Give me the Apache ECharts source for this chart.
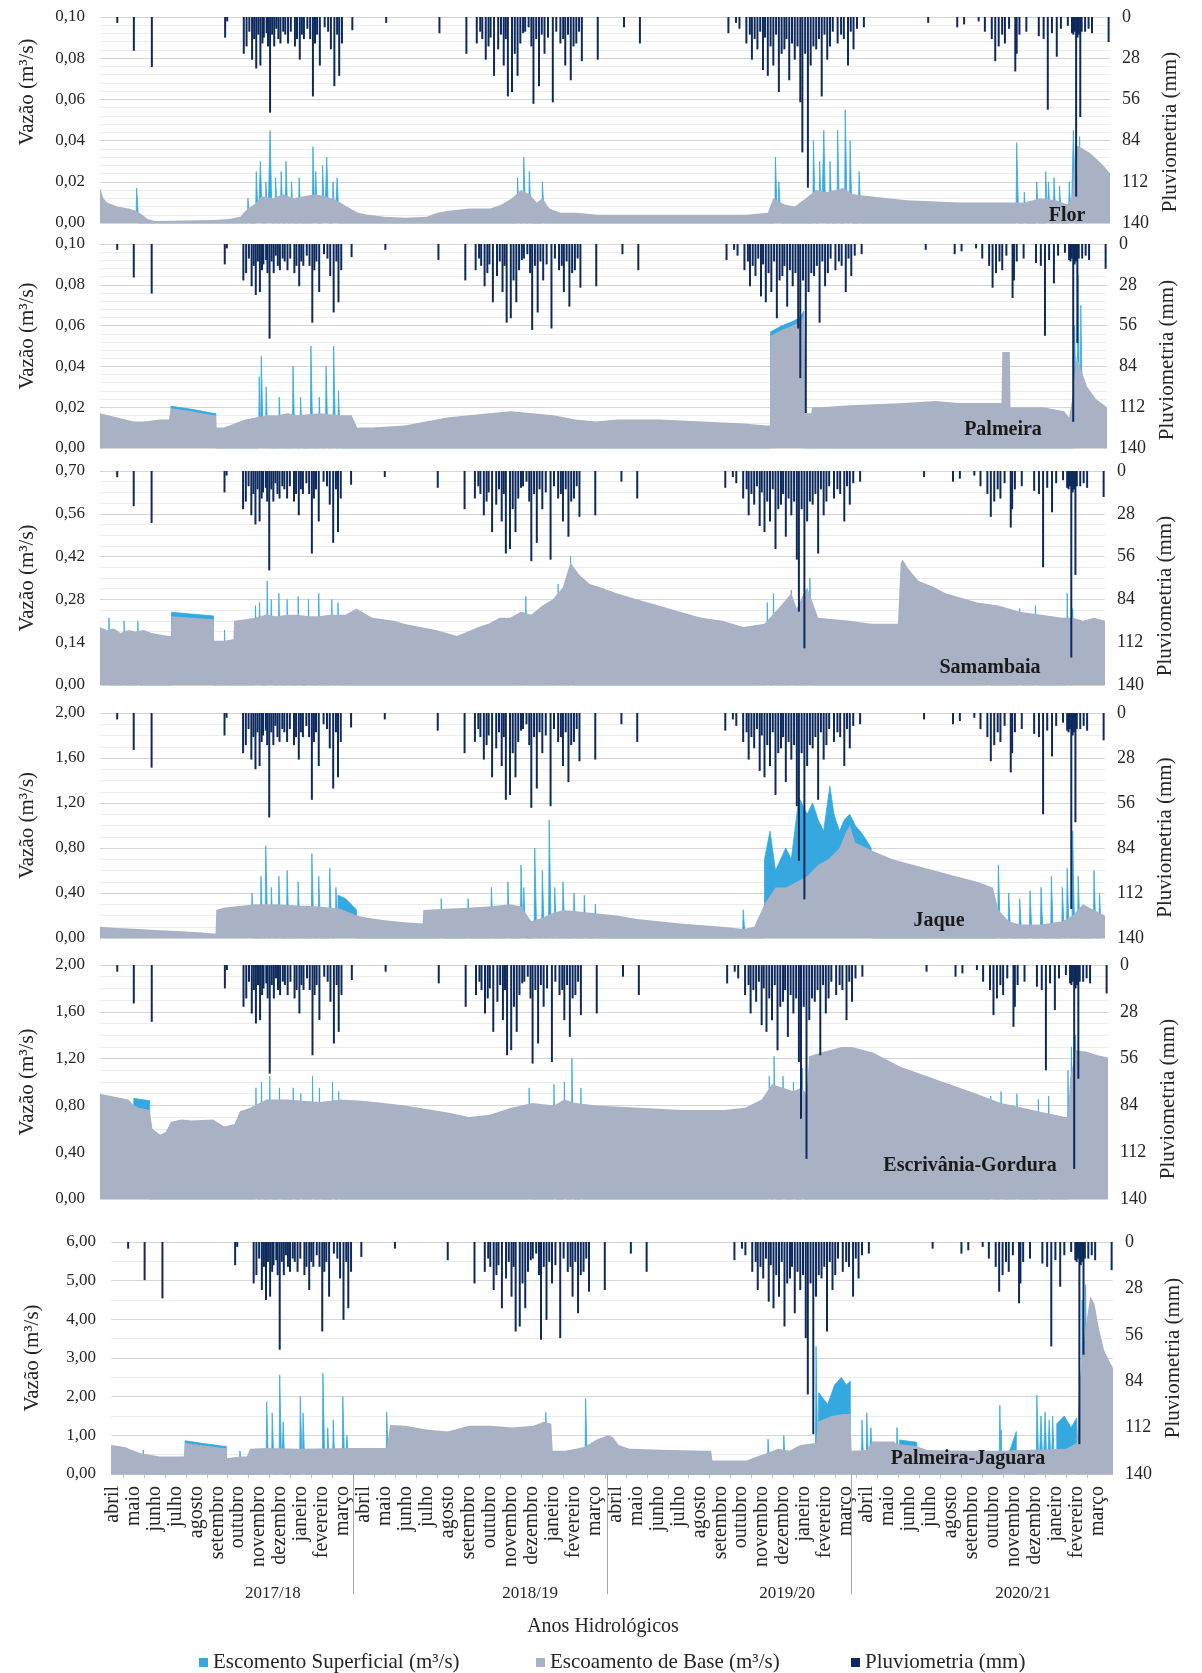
<!DOCTYPE html>
<html><head><meta charset="utf-8">
<script src="https://cdn.jsdelivr.net/npm/echarts@6/dist/echarts.min.js"></script>
<style>html,body{margin:0;padding:0;background:#fff}#chart{width:1202px;height:1673px}</style>
</head><body><div id="chart"></div>
<script>
// ---------------- DATA (x = day index of the record, 0 = 1 April 2017) ----------------
const N_DAYS = 1461;
const monthNames = ['abril','maio','junho','julho','agosto','setembro','outubro','novembro','dezembro','janeiro','fevereiro','março'];
const hydroYears = ['2017/18','2018/19','2019/20','2020/21'];
const yearBounds = [353, 723, 1080];
const yearLabelDays = [236, 611, 986, 1330];
const stationNames = ['Flor','Palmeira','Samambaia','Jaque','Escrivânia-Gordura','Palmeira-Jaguara'];
const flowMax = [0.10, 0.10, 0.70, 2.00, 2.00, 6.00];
const flowInterval = [0.02, 0.02, 0.14, 0.40, 0.40, 1.00];
const flowMinor = [5, 5, 4, 4, 4, 2];

// daily rainfall (mm) [day, mm]
const rainfall = [[25,4],[49,23],[75,34],[181,14],[184,3],[208,25],[212,20],[216,10],[220,29],[223,15],[226,35],[229,12],[232,33],[235,18],[237,14],[241,11],[243,20],[246,65],[249,12],[252,20],[255,8],[258,15],[261,18],[265,10],[268,12],[272,18],[276,10],[282,20],[285,15],[289,29],[292,12],[295,15],[300,8],[304,15],[308,54],[311,18],[314,12],[318,33],[325,7],[330,10],[334,22],[339,47],[343,12],[346,40],[350,18],[365,9],[414,4],[491,11],[530,25],[545,18],[550,10],[553,15],[558,29],[562,20],[565,14],[570,40],[576,22],[580,12],[584,33],[587,15],[590,54],[596,51],[600,25],[604,40],[608,18],[612,11],[615,10],[620,7],[624,20],[627,59],[631,15],[635,47],[639,12],[643,25],[648,14],[655,58],[660,10],[666,18],[670,15],[673,33],[677,12],[681,43],[685,20],[689,18],[693,10],[697,30],[720,29],[758,7],[781,18],[909,11],[920,4],[925,8],[935,18],[940,12],[943,29],[947,15],[951,22],[955,10],[959,36],[962,14],[966,40],[970,20],[974,33],[978,12],[982,51],[986,25],[990,22],[993,15],[997,43],[1001,18],[1005,29],[1009,20],[1013,58],[1016,92],[1020,25],[1024,116],[1028,33],[1032,20],[1036,22],[1040,15],[1044,54],[1048,12],[1052,29],[1056,20],[1060,10],[1067,18],[1072,12],[1076,15],[1082,33],[1086,10],[1090,22],[1095,8],[1105,7],[1198,4],[1240,7],[1250,5],[1271,3],[1280,10],[1290,15],[1295,30],[1300,20],[1305,12],[1309,18],[1315,8],[1324,37],[1326,25],[1330,12],[1340,10],[1358,13],[1365,15],[1371,63],[1377,11],[1384,27],[1390,8],[1400,6],[1406,11],[1408,12],[1410,10],[1412,122],[1414,14],[1416,12],[1418,68],[1420,10],[1425,10],[1430,8],[1435,11],[1459,17]];

// ---- Flor ----
const florBase = [[0,0.017],[5,0.012],[10,0.010],[25,0.008],[41,0.007],[52,0.006],[61,0.004],[69,0.002],[79,0.001],[164,0.0015],[187,0.002],[203,0.003],[208,0.005],[214,0.007],[223,0.009],[234,0.013],[249,0.012],[265,0.014],[280,0.012],[295,0.013],[311,0.014],[326,0.013],[342,0.011],[357,0.008],[373,0.005],[388,0.004],[411,0.003],[442,0.0025],[473,0.003],[488,0.005],[504,0.006],[535,0.007],[565,0.007],[581,0.009],[596,0.012],[609,0.016],[621,0.014],[632,0.010],[640,0.012],[650,0.007],[666,0.005],[689,0.005],[720,0.004],[781,0.004],[859,0.004],[935,0.004],[966,0.005],[974,0.012],[990,0.009],[1005,0.008],[1021,0.012],[1036,0.016],[1052,0.015],[1075,0.017],[1090,0.014],[1113,0.013],[1167,0.011],[1244,0.010],[1306,0.010],[1337,0.010],[1360,0.012],[1383,0.011],[1399,0.009],[1406,0.012],[1411,0.038],[1422,0.036],[1432,0.034],[1445,0.030],[1454,0.027],[1461,0.024]];
const florRunoff = [[53,0.017],[214,0.012],[226,0.025],[232,0.030],[240,0.020],[246,0.045],[254,0.022],[262,0.025],[269,0.030],[277,0.020],[288,0.022],[308,0.037],[312,0.025],[322,0.028],[328,0.032],[337,0.020],[343,0.022],[604,0.022],[613,0.032],[621,0.025],[640,0.020],[977,0.032],[982,0.020],[1032,0.040],[1041,0.030],[1047,0.045],[1056,0.030],[1067,0.045],[1078,0.055],[1085,0.040],[1098,0.025],[1326,0.039],[1337,0.015],[1355,0.020],[1368,0.025],[1372,0.020],[1380,0.022],[1388,0.018],[1402,0.020],[1408,0.045],[1417,0.042]];
const florBands = [];

// ---- Palmeira ----
const palmeiraBase = [[0,0.017],[25,0.015],[49,0.013],[64,0.013],[87,0.014],[100,0.014],[103,0.0195],[133,0.018],[164,0.016],[168,0.016],[169,0.010],[180,0.010],[195,0.012],[211,0.014],[226,0.015],[241,0.016],[257,0.016],[272,0.017],[288,0.016],[318,0.017],[349,0.016],[365,0.016],[373,0.010],[396,0.010],[442,0.011],[473,0.013],[504,0.015],[535,0.016],[565,0.017],[596,0.018],[627,0.017],[658,0.016],[689,0.014],[720,0.013],[751,0.014],[812,0.014],[874,0.013],[935,0.012],[966,0.011],[972,0.011],[973,0.055],[990,0.058],[1005,0.060],[1016,0.062],[1021,0.065],[1023,0.065],[1024,0.017],[1032,0.017],[1033,0.020],[1044,0.020],[1090,0.021],[1167,0.022],[1213,0.023],[1244,0.022],[1308,0.022],[1309,0.047],[1320,0.047],[1321,0.020],[1368,0.020],[1399,0.018],[1406,0.015],[1411,0.025],[1417,0.045],[1422,0.040],[1432,0.030],[1445,0.024],[1461,0.020]];
const palmeiraRunoff = [[231,0.035],[234,0.045],[241,0.030],[260,0.025],[280,0.040],[291,0.025],[306,0.050],[318,0.025],[328,0.040],[339,0.050],[346,0.028],[1414,0.060],[1419,0.085],[1423,0.070]];
const palmeiraBands = [[[103,0],[103,0.0205],[133,0.019],[164,0.017],[168,0.017],[168,0]],[[973,0],[973,0.057],[990,0.060],[1005,0.062],[1016,0.064],[1021,0.067],[1023,0.067],[1023,0]]];

// ---- Samambaia ----
const samambaiaBase = [[0,0.19],[10,0.18],[20,0.185],[30,0.17],[41,0.18],[52,0.175],[64,0.18],[75,0.17],[87,0.165],[100,0.16],[103,0.16],[104,0.225],[133,0.22],[165,0.215],[166,0.145],[180,0.145],[194,0.15],[195,0.21],[211,0.215],[226,0.22],[241,0.23],[257,0.225],[272,0.23],[288,0.23],[303,0.225],[318,0.225],[334,0.23],[357,0.23],[373,0.25],[388,0.23],[396,0.22],[427,0.21],[442,0.20],[465,0.19],[488,0.18],[504,0.17],[519,0.16],[535,0.175],[550,0.19],[565,0.20],[581,0.22],[596,0.22],[612,0.24],[627,0.23],[643,0.26],[658,0.28],[673,0.32],[681,0.38],[684,0.40],[697,0.36],[712,0.33],[727,0.32],[751,0.30],[781,0.28],[812,0.26],[843,0.24],[874,0.22],[905,0.21],[935,0.19],[966,0.20],[990,0.26],[1005,0.30],[1013,0.25],[1021,0.29],[1028,0.32],[1036,0.27],[1044,0.22],[1090,0.21],[1121,0.20],[1160,0.20],[1164,0.40],[1167,0.41],[1175,0.38],[1190,0.34],[1213,0.32],[1229,0.30],[1244,0.29],[1275,0.27],[1306,0.26],[1321,0.25],[1337,0.24],[1368,0.23],[1399,0.22],[1414,0.22],[1429,0.21],[1445,0.22],[1461,0.21]];
const samambaiaRunoff = [[13,0.22],[35,0.21],[55,0.21],[181,0.18],[226,0.26],[232,0.27],[243,0.34],[249,0.28],[260,0.30],[272,0.28],[288,0.29],[303,0.28],[318,0.30],[337,0.28],[346,0.27],[619,0.29],[666,0.33],[684,0.42],[970,0.27],[979,0.30],[1005,0.31],[1032,0.35],[1291,0.26],[1337,0.25],[1360,0.26],[1406,0.30],[1414,0.25]];
const samambaiaBands = [[[104,0],[104,0.238],[133,0.232],[165,0.226],[165,0]]];

// ---- Jaque ----
const jaqueBase = [[0,0.10],[25,0.09],[56,0.08],[87,0.07],[118,0.06],[149,0.05],[164,0.04],[168,0.04],[169,0.25],[180,0.27],[195,0.28],[226,0.30],[257,0.30],[288,0.29],[318,0.28],[349,0.26],[373,0.20],[388,0.18],[411,0.16],[442,0.14],[469,0.13],[470,0.25],[504,0.26],[535,0.27],[565,0.28],[596,0.30],[612,0.28],[627,0.15],[643,0.18],[658,0.22],[673,0.25],[689,0.24],[720,0.22],[751,0.20],[781,0.17],[843,0.13],[905,0.10],[935,0.08],[951,0.10],[966,0.30],[982,0.45],[997,0.45],[1013,0.50],[1028,0.55],[1044,0.65],[1059,0.70],[1075,0.80],[1085,0.95],[1090,1.00],[1098,0.85],[1121,0.78],[1152,0.70],[1183,0.65],[1213,0.60],[1244,0.55],[1275,0.50],[1298,0.45],[1306,0.25],[1321,0.15],[1337,0.12],[1368,0.12],[1399,0.15],[1414,0.20],[1429,0.30],[1445,0.25],[1461,0.20]];
const jaqueRunoff = [[221,0.40],[234,0.55],[241,0.82],[249,0.45],[260,0.55],[272,0.60],[288,0.50],[308,0.75],[318,0.55],[334,0.62],[343,0.45],[496,0.35],[535,0.35],[569,0.45],[593,0.50],[612,0.65],[616,0.45],[632,0.80],[643,0.60],[653,1.05],[661,0.45],[673,0.50],[689,0.40],[704,0.38],[720,0.30],[935,0.25],[1306,0.65],[1321,0.40],[1337,0.35],[1352,0.42],[1368,0.45],[1383,0.55],[1399,0.45],[1406,0.62],[1414,0.95],[1422,0.55],[1445,0.60],[1453,0.40]];
const jaqueBands = [[[346,0],[346,0.38],[357,0.35],[373,0.25],[373,0]],[[966,0],[966,0.70],[974,0.95],[982,0.60],[997,0.80],[1005,0.70],[1016,1.25],[1028,1.10],[1036,1.20],[1044,1.05],[1052,0.95],[1061,1.35],[1067,1.10],[1075,0.95],[1082,1.05],[1090,1.10],[1098,1.00],[1105,0.95],[1113,0.88],[1121,0.80],[1121,0]]];

// ---- Escrivânia-Gordura ----
const escrivaniaBase = [[0,0.90],[25,0.87],[41,0.85],[49,0.80],[56,0.78],[72,0.76],[76,0.60],[87,0.55],[95,0.57],[103,0.66],[118,0.68],[133,0.67],[164,0.68],[180,0.62],[195,0.64],[203,0.75],[218,0.78],[241,0.85],[272,0.85],[318,0.83],[349,0.85],[380,0.84],[411,0.82],[442,0.80],[473,0.77],[504,0.74],[535,0.70],[565,0.72],[596,0.78],[627,0.82],[658,0.80],[673,0.85],[689,0.82],[720,0.80],[781,0.78],[843,0.76],[905,0.76],[935,0.78],[959,0.85],[974,0.98],[990,0.95],[1005,0.92],[1016,0.95],[1024,0.90],[1028,1.22],[1044,1.25],[1075,1.30],[1090,1.30],[1121,1.25],[1160,1.13],[1213,1.02],[1260,0.92],[1306,0.82],[1337,0.78],[1368,0.74],[1399,0.70],[1403,0.70],[1406,1.02],[1414,1.27],[1429,1.26],[1445,1.23],[1461,1.21]];
const escrivaniaRunoff = [[226,0.95],[234,1.00],[246,1.05],[260,0.95],[280,0.95],[291,0.90],[308,1.05],[318,0.95],[337,1.00],[346,0.92],[622,0.95],[658,0.98],[673,1.00],[684,1.20],[697,0.95],[970,1.05],[977,1.22],[990,1.05],[1005,1.00],[1018,1.12],[1291,0.88],[1306,0.92],[1329,0.90],[1360,0.85],[1375,0.88],[1403,1.10],[1408,1.30],[1414,1.40]];
const escrivaniaBands = [[[49,0],[49,0.86],[72,0.84],[72,0]]];

// ---- Palmeira-Jaguara ----
const jaguaraBase = [[0,0.75],[20,0.70],[42,0.54],[71,0.45],[106,0.45],[108,0.80],[130,0.75],[163,0.67],[168,0.67],[169,0.41],[188,0.45],[198,0.45],[203,0.65],[227,0.67],[276,0.65],[348,0.67],[402,0.67],[407,1.27],[429,1.25],[460,1.15],[491,1.10],[522,1.25],[554,1.25],[585,1.20],[616,1.25],[631,1.35],[642,1.30],[644,0.60],[662,0.60],[678,0.65],[690,0.70],[709,0.90],[725,1.00],[732,0.95],[740,0.75],[756,0.65],[802,0.63],[865,0.60],[875,0.60],[877,0.35],[927,0.35],[942,0.45],[958,0.55],[973,0.65],[989,0.60],[1005,0.75],[1028,0.80],[1031,1.35],[1051,1.50],[1067,1.55],[1078,1.55],[1080,0.60],[1102,0.62],[1110,0.84],[1141,0.84],[1145,0.78],[1175,0.72],[1190,0.62],[1238,0.60],[1296,0.60],[1330,0.62],[1393,0.65],[1408,0.80],[1413,2.50],[1421,3.80],[1428,4.60],[1434,4.40],[1440,3.80],[1448,3.20],[1456,2.90],[1461,2.75]];
const jaguaraRunoff = [[47,0.62],[188,0.60],[227,1.87],[235,1.58],[246,2.56],[251,1.35],[276,2.00],[280,1.58],[309,2.61],[316,1.20],[324,1.40],[338,2.00],[344,1.00],[402,1.60],[634,1.60],[692,1.95],[958,0.90],[981,1.00],[1028,3.30],[1095,1.40],[1102,1.58],[1108,1.20],[1146,1.20],[1296,1.78],[1350,2.04],[1356,1.50],[1362,1.60],[1368,1.40],[1373,1.50],[1416,4.50],[1421,4.90]];
const jaguaraBands = [[[108,0],[108,0.86],[130,0.80],[163,0.72],[168,0.72],[168,0]],[[1032,0],[1032,2.10],[1045,1.80],[1055,2.30],[1065,2.50],[1072,2.30],[1078,2.40],[1078,0]],[[1150,0],[1150,0.88],[1175,0.82],[1175,0]],[[1298,0],[1298,1.14],[1320,1.10],[1320,0]],[[1379,0],[1379,1.30],[1390,1.50],[1400,1.20],[1408,1.45],[1408,0]]];

const baseSeries = [florBase, palmeiraBase, samambaiaBase, jaqueBase, escrivaniaBase, jaguaraBase];
const runoffSeries = [florRunoff, palmeiraRunoff, samambaiaRunoff, jaqueRunoff, escrivaniaRunoff, jaguaraRunoff];
const bandSeries = [florBands, palmeiraBands, samambaiaBands, jaqueBands, escrivaniaBands, jaguaraBands];

// ---------------- LAYOUT / STYLE ----------------
const FONT = '"Liberation Serif","Times New Roman",serif';
const C_BASE = '#a9b1c5', C_SURF = '#35a9df', C_RAIN = '#0e2a5c', C_TXT = '#262626';
const N_SURF = 'Escomento Superficial (m³/s)', N_BASE = 'Escoamento de Base (m³/s)', N_RAIN = 'Pluviometria (mm)';
const layout = [
  {left:100, top:17, width:1010, height:206},
  {left:100, top:244, width:1007, height:204},
  {left:100, top:471, width:1005, height:214},
  {left:100, top:713, width:1005, height:225},
  {left:100, top:965, width:1008, height:234},
  {left:111, top:1242, width:1002, height:232}
];
const yearGrid = {left:111, top:1474, width:1002, height:120};
const monthGrid = {left:102, top:1242, width:1006, height:232};
const leftNameShift = [56, 20, 0, 0, 0, 0];
const rightNameShift = [24, 28, 36, 24, 34, 0];
const stationPos = [[1067,216],[1003,430],[990,668],[939,921],[970,1166],[968,1459]];

function buildTotal(peaks, bands) {
  const pts = [];
  peaks.forEach(([d, v]) => { pts.push([d - 1, 0], [d, v], [d + 3, 0]); });
  bands.forEach(b => b.forEach(p => pts.push(p)));
  pts.sort((a, b) => a[0] - b[0]);
  return pts;
}
const fmtComma = v => v.toFixed(2).replace('.', ',');

const monthCategories = monthNames.concat(monthNames, monthNames, monthNames);
const MONTH_FIRST = 2.2, MONTH_STEP = 30.55;
const monthTickDays = monthCategories.slice(0, 47).map((_, k) => Math.round((MONTH_FIRST + MONTH_STEP * (k + 0.5)) * 10) / 10);

const grid = [], xAxis = [], yAxis = [], series = [], graphic = [];
for (let i = 0; i < 6; i++) {
  grid.push(Object.assign({containLabel: false}, layout[i]));
  const isLast = i === 5;
  xAxis.push({
    type: 'value', gridIndex: i, min: 0, max: N_DAYS, show: isLast, position: 'bottom',
    splitLine: {show: false},
    axisLine: {show: true, lineStyle: {color: '#bfbfbf', width: 1}},
    axisTick: {show: true, customValues: monthTickDays, length: 4, lineStyle: {color: '#bfbfbf'}},
    axisLabel: {show: false}
  });
  yAxis.push({
    type: 'value', gridIndex: i, min: 0, max: flowMax[i], interval: flowInterval[i], position: 'left',
    name: 'Vazão (m³/s)', nameLocation: 'middle', nameRotate: 90, nameGap: isLast ? 68 : 62,
    nameTextStyle: {fontFamily: FONT, fontSize: 21, color: C_TXT, padding: [0, 0, 0, leftNameShift[i]]},
    axisLine: {show: false}, axisTick: {show: false},
    axisLabel: {formatter: fmtComma, fontFamily: FONT, fontSize: 17, color: C_TXT, margin: 15},
    splitLine: {show: true, lineStyle: {color: '#d4d4d4', width: 1}},
    minorTick: {show: false, splitNumber: flowMinor[i]},
    minorSplitLine: {show: true, lineStyle: {color: '#ececec', width: 1}}
  });
  yAxis.push({
    type: 'value', gridIndex: i, min: 0, max: 140, interval: 28, inverse: true, position: 'right',
    name: 'Pluviometria (mm)', nameLocation: 'middle', nameRotate: 90, nameGap: 50,
    nameTextStyle: {fontFamily: FONT, fontSize: 21, color: C_TXT, padding: [0, rightNameShift[i], 0, 0]},
    axisLine: {show: false}, axisTick: {show: false},
    axisLabel: {fontFamily: FONT, fontSize: 18, color: C_TXT, margin: 12},
    splitLine: {show: false}
  });
  series.push({
    name: N_SURF, type: 'line', xAxisIndex: i, yAxisIndex: 2 * i, data: buildTotal(runoffSeries[i], bandSeries[i]),
    symbol: 'none', showSymbol: false, z: 2, animation: false,
    itemStyle: {color: C_SURF}, lineStyle: {color: C_SURF, width: 0.8}, areaStyle: {color: C_SURF, opacity: 1}
  });
  series.push({
    name: N_BASE, type: 'line', xAxisIndex: i, yAxisIndex: 2 * i, data: baseSeries[i],
    symbol: 'none', showSymbol: false, z: 3, animation: false,
    itemStyle: {color: C_BASE}, lineStyle: {width: 0, color: C_BASE}, areaStyle: {color: C_BASE, opacity: 1}
  });
  series.push({
    name: N_RAIN, type: 'bar', xAxisIndex: i, yAxisIndex: 2 * i + 1, data: rainfall,
    barWidth: 2, z: 4, animation: false, itemStyle: {color: C_RAIN}
  });
  graphic.push({type: 'text', x: stationPos[i][0], y: stationPos[i][1], z: 100,
    style: {text: stationNames[i], font: 'bold 20px ' + FONT, fill: '#1a1a1a', align: 'center', verticalAlign: 'middle'}});
}
// hydrological-year strip (labels + separators) under the last panel  -> grid 6, xAxis 6, yAxis 12
grid.push(Object.assign({containLabel: false}, yearGrid));
xAxis.push({
  type: 'value', gridIndex: 6, min: 0, max: N_DAYS, position: 'bottom',
  axisLine: {show: false}, axisTick: {show: false}, splitLine: {show: false},
  axisLabel: {show: true, customValues: yearLabelDays, margin: -9, hideOverlap: false, fontFamily: FONT, fontSize: 17, color: C_TXT,
    formatter: v => hydroYears[yearLabelDays.indexOf(v)] || ''}
});
yAxis.push({type: 'value', gridIndex: 6, min: 0, max: 1, show: false});
series.push({
  name: 'separadores', type: 'line', xAxisIndex: 6, yAxisIndex: 12, data: [], silent: true, animation: false,
  markLine: {silent: true, symbol: ['none', 'none'], label: {show: false}, animation: false,
    lineStyle: {color: '#a6a6a6', type: 'solid', width: 1},
    data: yearBounds.map(d => ({xAxis: d}))}
});
// month-name category axis under the last panel -> grid 7, xAxis 7, yAxis 13
grid.push(Object.assign({containLabel: false}, monthGrid));
xAxis.push({
  type: 'category', gridIndex: 7, data: monthCategories, boundaryGap: true, position: 'bottom',
  axisLine: {show: false}, axisTick: {show: false}, splitLine: {show: false},
  axisLabel: {show: true, interval: 0, rotate: 90, margin: 12, hideOverlap: false, fontFamily: FONT, fontSize: 20, color: C_TXT}
});
yAxis.push({type: 'value', gridIndex: 7, min: 0, max: 1, show: false});

graphic.push({type: 'text', x: 603, y: 1627, style: {text: 'Anos Hidrológicos', font: '20px ' + FONT, fill: C_TXT, align: 'center', verticalAlign: 'middle'}});

const legendCommon = {top: 1647, icon: 'rect', itemWidth: 9, itemHeight: 9, textStyle: {fontFamily: FONT, fontSize: 21, color: C_TXT}, selectedMode: false};
const legend = [
  Object.assign({left: 194, data: [N_SURF]}, legendCommon),
  Object.assign({left: 531, data: [N_BASE]}, legendCommon),
  Object.assign({left: 846, data: [N_RAIN]}, legendCommon)
];

const chart = echarts.init(document.getElementById('chart'), null, {renderer: 'canvas'});
chart.setOption({
  backgroundColor: '#ffffff', animation: false,
  textStyle: {fontFamily: FONT},
  grid, xAxis, yAxis, series, legend, graphic
});
</script></body></html>
